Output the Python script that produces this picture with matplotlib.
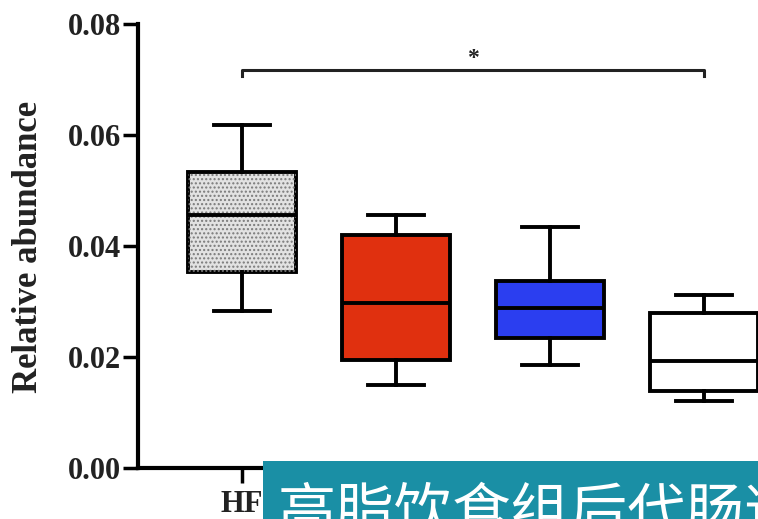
import matplotlib
matplotlib.use("Agg")
import matplotlib.pyplot as plt
from matplotlib.patches import Rectangle

groups = ["HF", "", "", ""]
whisker_low = [0.0283, 0.0150, 0.0186, 0.0121]
q1 = [0.0353, 0.0195, 0.0234, 0.0139]
medians = [0.0456, 0.0298, 0.0288, 0.0193]
q3 = [0.0533, 0.0420, 0.0337, 0.0279]
whisker_high = [0.0618, 0.0456, 0.0435, 0.0312]
fills = ["#e2e2e2", "#e0300f", "#2b3ef0", "#ffffff"]
yticks = [0.00, 0.02, 0.04, 0.06, 0.08]
ylabel = "Relative abundance"
sig_pair = (0, 3)
sig_text = "*"
banner_text = "高脂饮食组后代肠道菌群"

W, H = 758, 519
fig = plt.figure(figsize=(W / 100, H / 100), dpi=100)
ax = fig.add_axes([138 / W, (H - 468) / H, 1 - 138 / W, (468 - 24) / H])

serif = ["Liberation Serif", "DejaVu Serif"]
lw = 2.8
stats = []
for i in range(len(groups)):
    stats.append(dict(med=medians[i], q1=q1[i], q3=q3[i],
                      whislo=whisker_low[i], whishi=whisker_high[i], fliers=[]))
pos = list(range(len(groups)))
bp = ax.bxp(stats, positions=pos, widths=0.70, patch_artist=True, showfliers=False,
            capwidths=0.36,
            boxprops=dict(linewidth=lw, edgecolor="black"),
            medianprops=dict(linewidth=lw, color="black"),
            whiskerprops=dict(linewidth=lw, color="black"),
            capprops=dict(linewidth=lw, color="black"))
for patch, c in zip(bp["boxes"], fills):
    patch.set_facecolor(c)
    patch.set_zorder(2)
# dotted texture on first box
hat = Rectangle((pos[0] - 0.35, q1[0]), 0.70, q3[0] - q1[0], facecolor="none",
                edgecolor="#7a7a7a", hatch="....", linewidth=0, zorder=2.5)
ax.add_patch(hat)
for k in ["medians", "whiskers", "caps"]:
    for a in bp[k]:
        a.set_zorder(3)

ax.set_xlim(-0.675, 3.35)
ax.set_ylim(0, 0.08)
ax.set_yticks(yticks)
ax.set_yticklabels([f"{v:.2f}" for v in yticks])
ax.set_xticks(pos)
ax.set_xticklabels(groups)
for s in ["top", "right"]:
    ax.spines[s].set_visible(False)
for s in ["left", "bottom"]:
    ax.spines[s].set_linewidth(3)
ax.tick_params(axis="both", width=2.5, length=11, direction="out")
ax.tick_params(axis="y", pad=1)
ax.tick_params(axis="x", pad=5)
for t in ax.get_yticklabels() + ax.get_xticklabels():
    t.set_fontfamily(serif)
    t.set_fontweight("bold")
    t.set_fontsize(22)
    t.set_color("#222222")

fig.text(29 / W, 1 - 247 / H, ylabel, rotation=90, ha="center", va="center",
         fontfamily=serif, fontweight="bold", fontsize=25, color="#222222")

# significance bracket
yb = 0.0718
x0, x1 = sig_pair
ax.plot([x0, x0, x1, x1], [yb - 0.0012, yb, yb, yb - 0.0012], color="#222222", lw=2.2,
        clip_on=False)
ax.text((x0 + x1) / 2, yb + 0.0001, sig_text, ha="center", va="bottom",
        fontsize=17, fontweight="bold", fontfamily=serif, color="#222222")

# overlay banner
fig.patches.append(Rectangle((263 / W, 0), 1 - 263 / W, (H - 461) / H,
                             transform=fig.transFigure, facecolor="#1a8fa5",
                             edgecolor="none", zorder=10))
fig.text(278 / W, 1 - 484 / H, banner_text, ha="left", va="top", color="white",
         fontsize=42, fontfamily=["Noto Sans CJK SC", "DejaVu Sans"], zorder=11)

fig.savefig("out.png", dpi=100)
